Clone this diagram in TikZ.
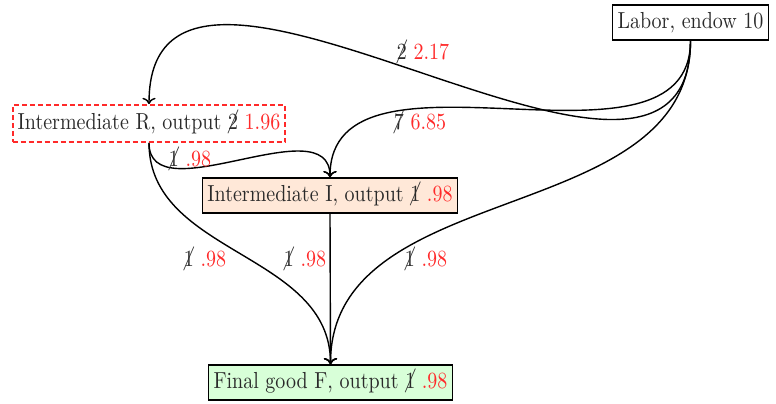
\documentclass[tikz,border=0pt]{standalone}
\usepackage{cancel}
\usetikzlibrary{arrows.meta}
\definecolor{txt}{HTML}{2A2A2A}
\definecolor{redn}{HTML}{FF2A2A}
\definecolor{peach}{HTML}{FFE8D8}
\definecolor{mint}{HTML}{D8FFD8}
\newcommand{\cx}[1]{$\cancel{#1}$}
\newcommand{\rv}[1]{\textcolor{redn}{#1}}
\newcommand{\tall}[1]{\scalebox{1}[1.16]{#1}}
\begin{document}
\begin{tikzpicture}[x=0.5pt,y=-0.5pt,
  box/.style={draw=black,line width=0.7pt,text=txt,inner xsep=2.5pt,minimum height=17.5pt,text height=8pt,text depth=2.4pt},
  lbl/.style={text=txt,inner sep=1pt},
  arr/.style={->,line width=0.7pt,draw=black}]
\useasboundingbox (0,0) rectangle (776,403);
\node[box] (L) at (690.5,22.5) {\tall{Labor, endow 10}};
\node[box,draw=redn,dash pattern=on 2.5pt off 1.5pt,line width=0.9pt,minimum height=18.5pt] (R) at (149,123.5) {\tall{Intermediate R, output \cx{2} \rv{1.96}}};
\node[box,fill=peach] (I) at (330,195.5) {\tall{Intermediate I, output \cx{1} \rv{.98}}};
\node[box,fill=mint] (F) at (330.5,382.5) {\tall{Final good F, output \cx{1} \rv{.98}}};
\draw[arr] (L.south) to[out=-90,in=90,looseness=1.15] (R.north);
\draw[arr] (L.south) to[out=-90,in=90] (I.north);
\draw[arr] (L.south) to[out=-90,in=90] (F.north);
\draw[arr] (R.south) to[out=-90,in=90] (I.north);
\draw[arr] (R.south) to[out=-90,in=90] (F.north);
\draw[arr] (I.south) -- (F.north);
\node[lbl] (l1) at (423,50) {\tall{\cx{2} \rv{2.17}}};
\node[lbl] (l2) at (420,120) {\tall{\cx{7} \rv{6.85}}};
\node[lbl] (l3) at (190,157) {\tall{\cx{1} \rv{.98}}};
\node[lbl] (l4) at (205,257) {\tall{\cx{1} \rv{.98}}};
\node[lbl] (l5) at (305,257) {\tall{\cx{1} \rv{.98}}};
\node[lbl] (l6) at (426,257) {\tall{\cx{1} \rv{.98}}};
\end{tikzpicture}
\end{document}
